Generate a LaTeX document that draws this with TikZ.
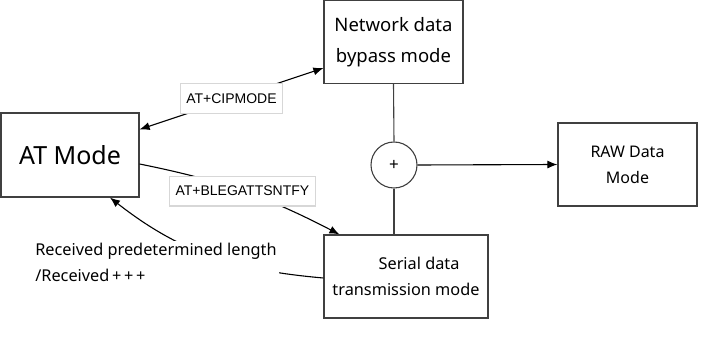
\documentclass[tikz,border=0pt]{standalone}
\usepackage{fontspec}
\setmainfont{Noto Sans}
\newfontfamily\cmdfont{Liberation Sans}
\usetikzlibrary{arrows.meta, positioning}
\definecolor{boxgray}{RGB}{64, 64, 64}
\definecolor{tagborder}{RGB}{215, 215, 215}

\begin{document}
\begin{tikzpicture}[
    x=1pt, y=-1pt,
    modebox/.style={draw=boxgray, line width=1.2pt, minimum width=139pt, minimum height=83pt, align=center},
    cmdtag/.style={draw=tagborder, fill=white, font=\cmdfont\fontsize{14}{16}\selectfont, inner xsep=6pt, inner ysep=10pt},
    link/.style={line width=1.1pt, -{Latex[length=10pt, width=8pt]}},
    wire/.style={draw=boxgray, line width=1.1pt},
]
    \useasboundingbox (0,0) rectangle (726,339);

    % Modes
    \node[modebox, minimum width=138pt, minimum height=84pt, font=\fontsize{25}{30}\selectfont] (atmode) at (70,155) {AT Mode};
    \node[modebox, font=\fontsize{18.5}{31}\selectfont] (bypass) at (393.5,42) {Network data\\bypass mode};
    \node[modebox, minimum width=164pt, font=\fontsize{16.3}{26}\selectfont] (serial) at (406,276.5) {\hspace*{1.6em}Serial data\\transmission mode};
    \node[modebox, font=\fontsize{16}{26}\selectfont] (raw) at (627.5,164.5) {RAW Data\\Mode};

    % Merge point
    \node[draw=boxgray, line width=1.1pt, circle, minimum size=46pt, inner sep=0pt, font=\fontsize{17}{17}\selectfont] (merge) at (394,165) {+};

    % Wires into the merge point
    \draw[wire] (bypass.south) -- (merge.north);
    \draw[wire] (merge.south) -- (merge.south |- serial.north);
    \draw[link] (merge.east) -- (raw.west);

    % Mode switches
    \draw[link, {Latex[length=10pt, width=8pt]}-{Latex[length=10pt, width=8pt]}] ([yshift=-17pt]atmode.north east) -- ([yshift=16pt]bypass.south west)
        node[cmdtag, midway] (cipmode) {AT+CIPMODE};
    \draw[link] ([yshift=-9pt]atmode.east) to[bend left=8]
        node[cmdtag, midway] (notify) {AT+BLEGATTSNTFY} ([xshift=16pt]serial.north west);
    \draw[link] ([yshift=-1.5pt]serial.west) to[out=175, in=-38] ([xshift=40pt]atmode.south);

    % Exit condition
    \node[fill=white, align=left, font=\fontsize{16.3}{26}\selectfont, inner sep=2pt] (received) at (156,262)
        {Received predetermined length\\/Received\,+\,+\,+};
\end{tikzpicture}
\end{document}
